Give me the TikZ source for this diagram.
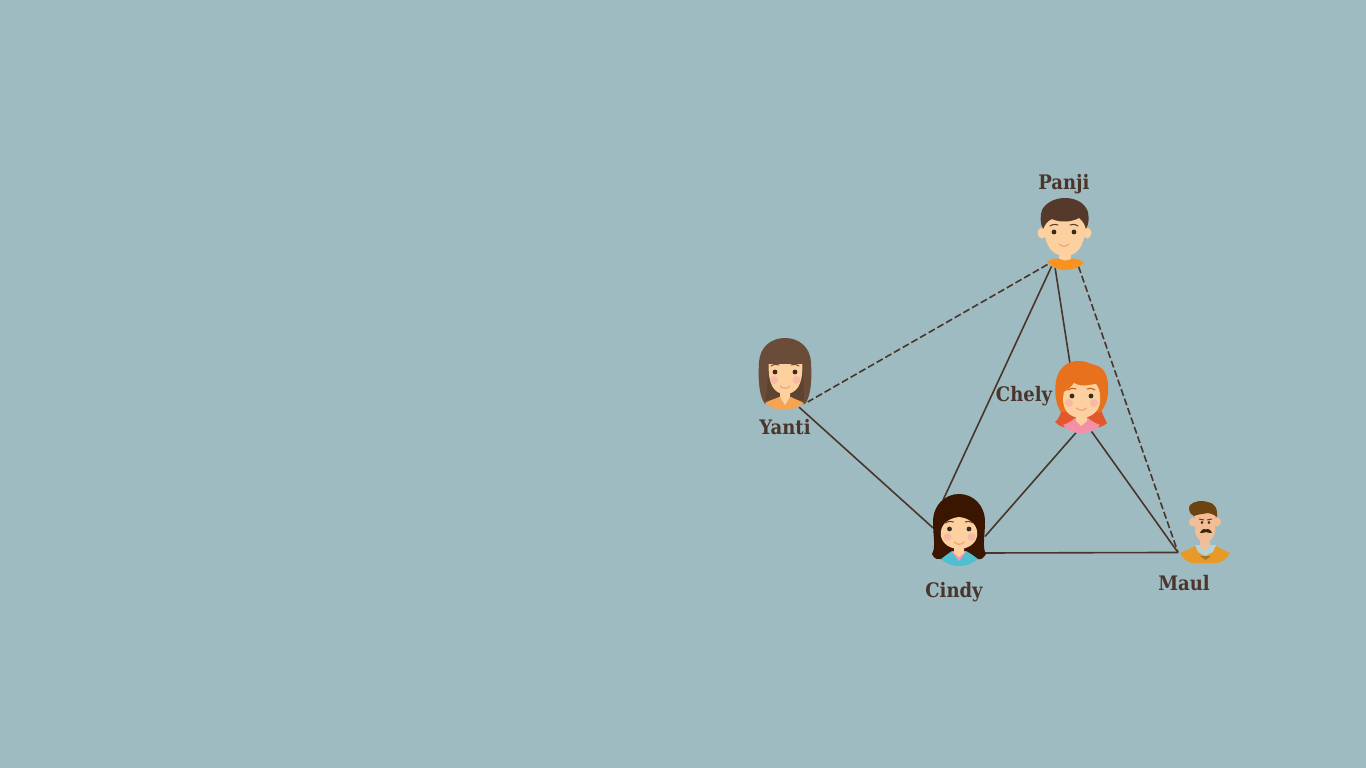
\documentclass[tikz,border=0pt]{standalone}
\usepackage{fontspec}
\setmainfont{Liberation Serif}
\newfontfamily\lblfont{DejaVu Serif Condensed}
\definecolor{bgc}{HTML}{9EBBC1}
\definecolor{ink}{HTML}{4A352B}
\definecolor{skin}{HTML}{FDD09F}
\definecolor{blush}{HTML}{F7B9A5}
\definecolor{eye}{HTML}{3A2A20}
\definecolor{mouthc}{HTML}{EDA57C}
\definecolor{panjihair}{HTML}{55392B}
\definecolor{panjishirt}{HTML}{F7931E}
\definecolor{yantihair}{HTML}{6A4C38}
\definecolor{yantishade}{HTML}{5E4330}
\definecolor{yantishirt}{HTML}{F5A455}
\definecolor{chelyhair}{HTML}{E8711E}
\definecolor{chelyback}{HTML}{E2572B}
\definecolor{chelyshirt}{HTML}{F48FA8}
\definecolor{cindyhair}{HTML}{3A1500}
\definecolor{cindyshirt}{HTML}{4FC0CE}
\definecolor{cindypink}{HTML}{F49AB8}
\definecolor{maulhair}{HTML}{6B4411}
\definecolor{maulskin}{HTML}{F3BE96}
\definecolor{maulshirt}{HTML}{E79A28}
\definecolor{maulcollar}{HTML}{B3D2DC}
% #1,#2 eye x; #3 eye y; #4,#5 blush x; #6 blush y; #7 mouth y; #8 brow colour
\newcommand{\faceparts}[8]{%
  \fill[blush] (#4,#6) circle[radius=4pt] (#5,#6) circle[radius=4pt];
  \fill[eye] (#1,#3) circle[radius=2.4pt] (#2,#3) circle[radius=2.4pt];
  \draw[color=#8,line width=1pt,line cap=round] ({#1-4},{#3-6}) .. controls ({#1-1},{#3-8}) and ({#1+2},{#3-8}) .. ({#1+4},{#3-7});
  \draw[color=#8,line width=1pt,line cap=round] ({#2-4},{#3-7}) .. controls ({#2-2},{#3-8}) and ({#2+1},{#3-8}) .. ({#2+4},{#3-6});
  \draw[color=mouthc,line width=1.2pt,line cap=round] ({(#1+#2)/2-5},#7) .. controls ({(#1+#2)/2-2},{#7+3}) and ({(#1+#2)/2+2},{#7+3}) .. ({(#1+#2)/2+5},#7);
}
\tikzset{
  avatar/.style={inner sep=0pt,outer sep=0pt,minimum size=#1,circle},
  avatarbox/.style={inner sep=0pt,outer sep=0pt,rectangle},
  lnk/.style={draw=ink,line width=1.6pt},
  dlnk/.style={draw=ink,line width=1.6pt,dash pattern=on 7pt off 3pt},
  lbl/.style={text=ink,font=\lblfont\fontsize{20}{24}\selectfont\bfseries,inner sep=0pt,anchor=base}
}
\begin{document}
\begin{tikzpicture}[x=1pt,y=-1pt]
\useasboundingbox (0,0) rectangle (1366,768);
\fill[bgc] (0,0) rectangle (1366,768);

\node[avatar=72pt] (panji) at (1065,233) {};
\node[avatar=72pt] (yanti) at (785,374) {};
\node[avatar=72pt] (chely) at (1081,397) {};
\node[avatarbox,minimum width=52pt,minimum height=53pt] (cindy) at (959,526.5) {};
\node[avatarbox,minimum width=53pt,minimum height=63pt] (maul) at (1204.5,531) {};

\draw[dlnk] (panji.241.3) -- (yanti.309.4);
\draw[lnk] (panji.248.5) -- (cindy.121.1);
\draw[lnk] (panji.254) -- (chely.108.9);
\draw[dlnk] (panji.292.4) -- (maul.219.6);
\draw[lnk] (yanti.293) -- (cindy.183.3);
\draw[lnk] (chely.262.1) -- (cindy.339.9);
\draw[lnk] (chely.287.9) -- (maul.219.6);
\draw[lnk] (cindy.south east) -- (maul.219.6);

% Panji
\fill[skin] (1042,233) ellipse[x radius=4.5pt,y radius=5.5pt] (1087,233) ellipse[x radius=4.5pt,y radius=5.5pt];
\fill[skin] (1059,250) rectangle (1071,262);
\fill[panjishirt] (1047,262) .. controls (1052,258) and (1058,258) .. (1060,259) .. controls (1063,261) and (1068,261) .. (1071,259) .. controls (1075,258) and (1080,259) .. (1084,263) .. controls (1078,268) and (1072,270) .. (1065,270) .. controls (1058,270) and (1052,267) .. (1047,262) -- cycle;
\fill[skin] (1044,216) -- (1085,216) .. controls (1087,243) and (1079,256) .. (1065,256) .. controls (1051,256) and (1042,243) .. (1044,216) -- cycle;
\fill[panjihair] (1043,229) .. controls (1040,224) and (1040,215) .. (1042,210) .. controls (1046,202) and (1056,198) .. (1065,198) .. controls (1076,198) and (1085,203) .. (1088,212) .. controls (1089,218) and (1089,224) .. (1086,229) .. controls (1085,225) and (1083,221) .. (1079,218) .. controls (1070,223) and (1058,222) .. (1052,219) .. controls (1047,221) and (1045,225) .. (1043,229) -- cycle;
\faceparts{1054}{1074}{232}{-20}{-20}{-20}{244}{panjihair}

% Yanti
\fill[yantihair] (765,404) .. controls (759,396) and (758,380) .. (759,362) .. controls (760,347) and (771,338) .. (785,338) .. controls (799,338) and (810,347) .. (811,362) .. controls (812,380) and (811,396) .. (805,404) -- cycle;
\fill[yantishade] (766,400) -- (769,362) -- (803,362) -- (804,400) -- cycle;
\fill[yantishirt] (765,403) .. controls (770,400) and (775,399) .. (779,397) -- (791,397) .. controls (795,399) and (800,401) .. (804,403) .. controls (798,408) and (791,410) .. (784,410) .. controls (777,410) and (770,408) .. (765,403) -- cycle;
\fill[skin] (780,390) -- (790,390) -- (790,397) -- (785,405) -- (780,397) -- cycle;
\fill[skin] (769,360) -- (802,360) .. controls (804,384) and (797,394) .. (785,394) .. controls (774,394) and (767,384) .. (769,360) -- cycle;
\fill[yantihair] (768,358) -- (803,358) -- (803,363.5) -- (768,363.5) -- cycle;
\faceparts{775}{795}{372}{774}{796.5}{380}{386}{yantihair}

% Chely
\fill[chelyback] (1063,408) .. controls (1060,415) and (1058,420) .. (1055,422) .. controls (1060,427) and (1066,429) .. (1072,427) -- (1092,427) .. controls (1098,429) and (1104,426) .. (1107,423) .. controls (1104,418) and (1102,412) .. (1100,408) -- cycle;
\fill[chelyshirt] (1063,425) .. controls (1068,423) and (1072,421) .. (1075,418) -- (1088,418) .. controls (1091,421) and (1095,423) .. (1100,425) .. controls (1095,431) and (1088,433) .. (1081,433) .. controls (1074,433) and (1068,431) .. (1063,425) -- cycle;
\fill[skin] (1076,412) -- (1087,412) -- (1087,421) -- (1081,426) -- (1076,421) -- cycle;
\fill[chelyhair] (1061,412) .. controls (1056,405) and (1054,393) .. (1056,381) .. controls (1058,368) and (1068,360) .. (1080,361) .. controls (1086,361) and (1090,364) .. (1095,365) .. controls (1104,367) and (1108,376) .. (1108,386) .. controls (1109,396) and (1106,405) .. (1101,412) -- cycle;
\fill[skin] (1064,392) .. controls (1068,390) and (1072,386) .. (1074,383) .. controls (1082,388) and (1092,384) .. (1096,384) .. controls (1099,388) and (1100,392) .. (1100,396) .. controls (1102,410) and (1092,418) .. (1081,418) .. controls (1070,418) and (1060,410) .. (1064,392) -- cycle;
\faceparts{1072}{1091}{396}{1069}{1094}{403}{408}{chelyhair!80!black}

% Cindy
\fill[cindyhair] (940,559) .. controls (935,560) and (933,556) .. (932,554) .. controls (936,548) and (933,535) .. (933,522) .. controls (933,505) and (945,494) .. (959,494) .. controls (973,494) and (985,505) .. (985,522) .. controls (985,535) and (982,548) .. (986,554) .. controls (984,557) and (982,560) .. (978,559) -- cycle;
\fill[cindyshirt] (941,559) .. controls (945,556) and (949,553) .. (952,551) -- (966,551) .. controls (970,553) and (974,556) .. (978,559) .. controls (972,564) and (965,566) .. (959,566) .. controls (953,566) and (946,564) .. (941,559) -- cycle;
\fill[cindypink] (952,552) -- (966,552) -- (959,561) -- cycle;
\fill[skin] (954,544) -- (964,544) -- (964,553) -- (959,557) -- (954,553) -- cycle;
\fill[skin] (941,531) .. controls (942,523) and (950,518) .. (959,517) .. controls (968,518) and (976,523) .. (977,531) .. controls (979,541) and (970,549) .. (959,549) .. controls (948,549) and (939,541) .. (941,531) -- cycle;
\faceparts{949.5}{969}{529}{947.5}{971.5}{537}{542}{cindyhair!80}

% Maul
\fill[maulskin] (1193,522) ellipse[x radius=4pt,y radius=4.5pt] (1217,522) ellipse[x radius=4pt,y radius=4.5pt];
\fill[maulshirt] (1180,553) .. controls (1184,551) and (1190,549) .. (1195,546) -- (1216,546) .. controls (1221,549) and (1226,551) .. (1230,553) .. controls (1226,559) and (1222,563) .. (1216,563) -- (1193,563) .. controls (1188,563) and (1183,559) .. (1180,553) -- cycle;
\fill[maulcollar] (1195,545) -- (1216,545) -- (1213,552) -- (1205,556) -- (1198,552) -- cycle;
\fill[maulskin!85!maulcollar] (1200,538) -- (1210,538) -- (1210,547) -- (1205,551) -- (1200,547) -- cycle;
\fill[maulshirt!75!black] (1200,556) -- (1211,556) -- (1205.5,560) -- cycle;
\fill[maulskin] (1195,513) -- (1215,513) -- (1215,532) .. controls (1214,538) and (1210,542) .. (1205,542) .. controls (1200,542) and (1196,538) .. (1195,532) -- cycle;
\fill[maulhair] (1194,516) .. controls (1189,514) and (1188,508) .. (1190,505) .. controls (1194,501) and (1202,500) .. (1208,502) .. controls (1214,503) and (1218,508) .. (1217,517) .. controls (1215,515) and (1212,514) .. (1208,513) .. controls (1204,514) and (1198,514) .. (1194,516) -- cycle;
\fill[eye] (1202,522.5) ellipse[x radius=1.3pt,y radius=1.7pt] (1209,522.5) ellipse[x radius=1.3pt,y radius=1.7pt];
\draw[color=maulhair,line width=1pt] (1199,519) -- (1204,520) (1207,520) -- (1212,519);
\fill[maulhair!55!black] (1200,533) .. controls (1201,530) and (1204,528) .. (1206,529.5) .. controls (1208,528) and (1211,530) .. (1212,533) .. controls (1209,533) and (1207,532.5) .. (1206,532) .. controls (1205,532.5) and (1203,533) .. (1200,533) -- cycle;

\node[lbl] (lpanji) at (1064,189.5) {Panji};
\node[lbl] (lyanti) at (785,434) {Yanti};
\node[lbl] (lchely) at (1024,401) {Chely};
\node[lbl] (lcindy) at (954,597) {Cindy};
\node[lbl] (lmaul) at (1184,590) {Maul};
\end{tikzpicture}
\end{document}
